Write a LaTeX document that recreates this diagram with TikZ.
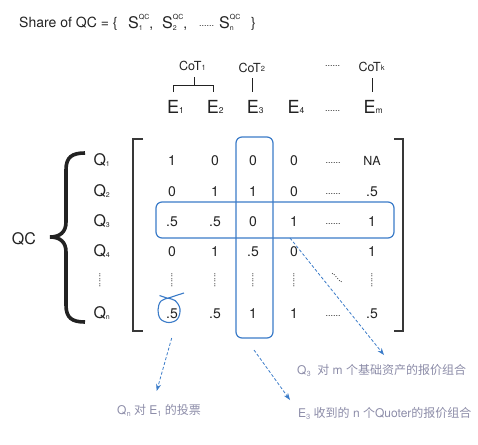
\documentclass[tikz,border=0pt]{standalone}
\usepackage{fontspec}
\setmainfont{TeX Gyre Heros}
\newfontfamily\cjk{Noto Sans CJK SC}
\usetikzlibrary{arrows.meta}
\definecolor{qblue}{HTML}{3A7BC8}
\definecolor{lab}{HTML}{8C8CA8}
\definecolor{ink}{HTML}{222222}
\newcommand{\fs}[1]{\fontsize{#1}{#1}\selectfont}
\newcommand{\hd}{{\fs{9}......}}
\newcommand{\Sq}[1]{{\fs{16}S}\rlap{\raisebox{-1.5pt}{\fs{7}#1}}\raisebox{9pt}{\fs{7}QC}}
\newcommand{\esub}[1]{\raisebox{-0.5pt}{\fs{8.5}#1}}
\newcommand{\qsub}[1]{\raisebox{-1pt}{\fs{7}#1}}
\newcommand{\csub}[1]{\raisebox{0.5pt}{\fs{7.5}#1}}
\newcommand{\lsub}[1]{\raisebox{-2pt}{\fs{7.5}#1}}
\begin{document}
\begin{tikzpicture}[x=1pt,y=-1pt,
  txt/.style={inner sep=0pt, text=ink},
  cell/.style={txt, anchor=base, font=\fs{14}},
  qlab/.style={txt, anchor=base west, font=\fs{16}},
  elab/.style={txt, anchor=base west, font=\fs{18}},
  cot/.style={txt, anchor=base west, font=\fs{12.5}},
  bluebox/.style={draw=qblue, line width=1.2pt, rounded corners=6pt},
  darr/.style={draw=qblue, line width=0.8pt, dash pattern=on 3pt off 2pt, -{Stealth[length=7pt,width=5pt]}},
  lbl/.style={inner sep=0pt, text=lab, anchor=base west, font=\fs{12}},
  brk/.style={draw=ink!90, line width=1.1pt},
  tick/.style={draw=ink, line width=0.8pt}]
\useasboundingbox (0,0) rectangle (478,444);

% title
\node[txt, anchor=base west, font=\fs{14}] (title) at (19,28) {Share of QC = \{};
\node[txt, anchor=base west, font=\fs{14}] (s1) at (128,29) {\Sq{1},};
\node[txt, anchor=base west, font=\fs{14}] (s2) at (162,29) {\Sq{2},};
\node[txt, anchor=base west] (tdots) at (199,27) {\hd};
\node[txt, anchor=base west, font=\fs{14}] (sn) at (219,29) {\Sq{n}};
\node[txt, anchor=base west, font=\fs{14}] (tclose) at (251,28) {\}};

% CoT row
\node[cot] (cot1) at (179,70.5) {CoT\csub{1}};
\node[cot] (cot2) at (238.3,72) {CoT\csub{2}};
\node[txt, anchor=base west] (cdots) at (325,66) {\hd};
\node[cot] (cotk) at (358.3,71) {CoT\csub{k}};
\draw[tick] (173,92) -- (173,85) -- (213,85) -- (213,92);
\draw[tick] (194,85) -- (194,77);
\draw[tick] (252,78) -- (252,92);
\draw[tick] (372,78) -- (372,92);

% E row
\node[elab] (e1) at (167,113) {E\esub{1}};
\node[elab] (e2) at (206.7,113) {E\esub{2}};
\node[elab] (e3) at (246.7,113) {E\esub{3}};
\node[elab] (e4) at (287.3,113) {E\esub{4}};
\node[txt, anchor=base west] (edots) at (325,111) {\hd};
\node[elab] (em) at (363.3,113) {E\esub{m}};

% QC and brace
\node[txt, anchor=base west, font=\fs{16}] (qc) at (11.7,244.5) {QC};
\draw[line width=3.6pt, ink] (85,153) .. controls (72,153) and (66,157) .. (66,170) -- (66,222)
  .. controls (66,232) and (60,237) .. (50,237)
  .. controls (60,237) and (66,242) .. (66,252) -- (66,305)
  .. controls (66,318) and (72,322) .. (85,322);

% Q labels
\node[qlab] (q1) at (93.3,165.5) {Q\qsub{1}};
\node[qlab] (q2) at (93.3,196) {Q\qsub{2}};
\node[qlab] (q3) at (93.3,226) {Q\qsub{3}};
\node[qlab] (q4) at (93.3,256) {Q\qsub{4}};
\node[txt, rotate=90] (qd) at (100,280) {\hd};
\node[qlab] (qn) at (93.3,318.5) {Q\qsub{n}};

% matrix brackets
\draw[brk] (143,139) -- (133,139) -- (133,331) -- (143,331);
\draw[brk] (394,139) -- (403,139) -- (403,331) -- (394,331);

% row 1
\node[cell] (m11) at (172,165) {1};
\node[cell] (m12) at (215,165) {0};
\node[cell] (m13) at (253,165) {0};
\node[cell] (m14) at (294,165) {0};
\node[txt, anchor=base] (m15) at (333,163) {\hd};
\node[cell, font=\fs{12.5}] (m16) at (372,165) {NA};
% row 2
\node[cell] (m21) at (172,196) {0};
\node[cell] (m22) at (215,196) {1};
\node[cell] (m23) at (253,196) {1};
\node[cell] (m24) at (294,196) {0};
\node[txt, anchor=base] (m25) at (333,194) {\hd};
\node[cell] (m26) at (372,196) {.5};
% row 3
\node[cell] (m31) at (172,226) {.5};
\node[cell] (m32) at (215,226) {.5};
\node[cell] (m33) at (253,226) {0};
\node[cell] (m34) at (294,226) {1};
\node[txt, anchor=base] (m35) at (333,224) {\hd};
\node[cell] (m36) at (372,226) {1};
% row 4
\node[cell] (m41) at (172,256) {0};
\node[cell] (m42) at (215,256) {1};
\node[cell] (m43) at (253,256) {.5};
\node[cell] (m44) at (294,256) {0};
\node[cell] (m46) at (372,256) {1};
% row 5 (dots)
\node[txt, rotate=90] (m51) at (172,280) {\hd};
\node[txt, rotate=90] (m52) at (215,280) {\hd};
\node[txt, rotate=90] (m53) at (253,280) {\hd};
\node[txt, rotate=90] (m54) at (294,280) {\hd};
\node[txt, rotate=-45] (m55) at (337,278) {\hd};
\node[txt, rotate=90] (m56) at (372,280) {\hd};
% row n
\node[cell] (m61) at (172,318) {.5};
\node[cell] (m62) at (215,318) {.5};
\node[cell] (m63) at (253,318) {1};
\node[cell] (m64) at (294,318) {1};
\node[txt, anchor=base] (m65) at (333,316) {\hd};
\node[cell] (m66) at (372,318) {.5};

% blue boxes
\draw[bluebox] (156,202) rectangle (394,238);
\draw[bluebox] (236,137) rectangle (273,338);
\draw[draw=qblue, line width=1.1pt] plot[smooth, tension=0.6] coordinates {(159.5,295.5) (167,298) (175,300.5) (180,309) (177.5,319) (169,322.5) (160.5,319) (158,310) (161,301) (170,297.5) (184,293)};

% arrows
\coordinate (a1s) at (171.7,338);
\coordinate (a1e) at (156.7,391);
\coordinate (a2s) at (254,350);
\coordinate (a2e) at (290,400);
\coordinate (a3s) at (290,238);
\coordinate (a3e) at (384,355);
\draw[darr] (a1s) -- (a1e);
\draw[darr] (a2s) -- (a2e);
\draw[darr] (a3s) -- (a3e);

% labels
\node[lbl] (l1) at (117,414.5) {Q\lsub{n} {\cjk 对} E\lsub{1} {\cjk 的投票}};
\node[lbl] (l2) at (298,417) {E\lsub{3} {\cjk 收到的} n {\cjk 个}Quoter{\cjk 的报价组合}};
\node[lbl] (l3) at (297,374) {Q\lsub{3} \ {\cjk 对} m {\cjk 个基础资产的报价组合}};
\end{tikzpicture}
\end{document}
